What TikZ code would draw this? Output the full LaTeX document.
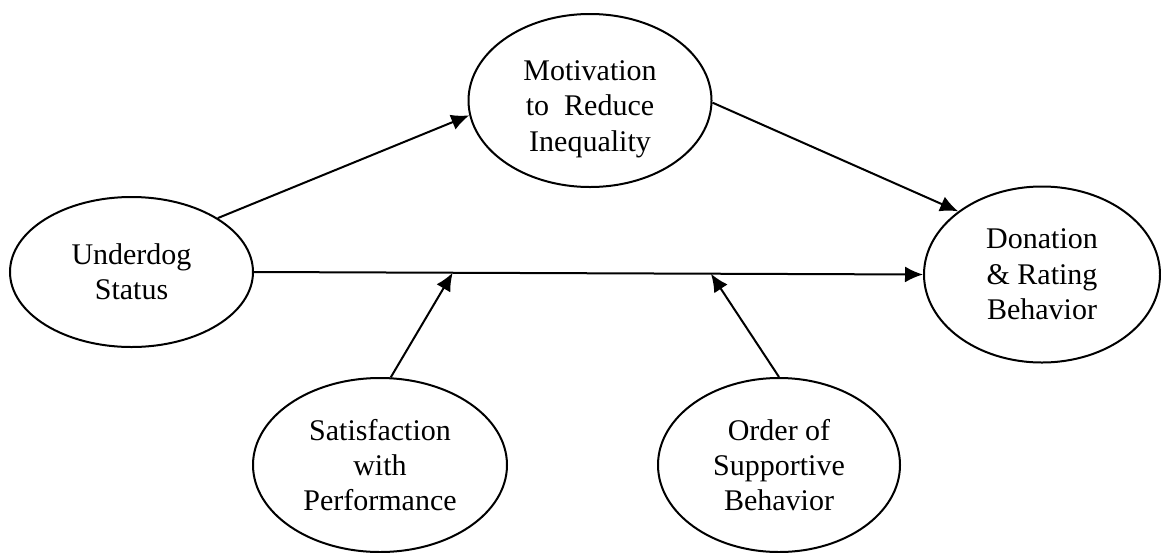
\documentclass[tikz,border=0pt]{standalone}
\usepackage{fontspec}
\setmainfont{Liberation Serif}
\usetikzlibrary{shapes.geometric,arrows.meta,calc}

\tikzset{
  var/.style={ellipse,draw,line width=1pt,inner sep=0pt,align=center,
    font=\fontsize{15}{17.7}\selectfont},
  link/.style={line width=1pt,-{Latex[length=9pt,width=8pt]}}
}

\begin{document}
\begin{tikzpicture}[x=0.5pt,y=-0.5pt]
                        \useasboundingbox (0,0) rectangle (1161,552);
                        \node[var,minimum width=121.5pt,minimum height=75pt] (under) at (131.5,272) {Underdog\\Status};
                        % empty first line pushes the text a little lower
                        \node[var,minimum width=121.5pt,minimum height=86.5pt] (motiv) at (590,100.5) {\mbox{}\\[0.7pt]Motivation\\to\ \ Reduce\\Inequality};
                        \node[var,minimum width=118pt,minimum height=88pt] (donat) at (1042,274.5) {Donation\\\& Rating\\Behavior};
                        \node[var,minimum width=127pt,minimum height=87pt] (satis) at (380,465) {Satisfaction\\with\\Performance};
                        \node[var,minimum width=121pt,minimum height=87pt] (order) at (779,465) {Order of\\Supportive\\Behavior};
                        % moderators meet the direct path here
                        \coordinate (m1) at ($(under.east)!0.297!(donat.west)$);
                        \coordinate (m2) at ($(under.east)!0.683!(donat.west)$);
                        \path[link]
                        (under.32) edge (motiv.187)
                        (motiv.359) edge (donat.143)
                        (under.east) edge (donat.west)
                        (satis.83) edge (m1)
                        (order.90) edge (m2);
                        \end{tikzpicture}
\end{document}
